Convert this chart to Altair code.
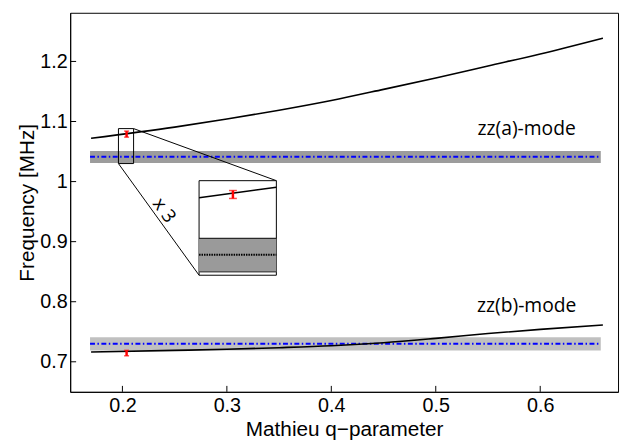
import altair as alt
import pandas as pd

# ---- data ----
q_values = [0.17, 0.25, 0.30, 0.35, 0.40, 0.45, 0.50, 0.55, 0.60, 0.66]
freq_a = [1.072, 1.0907, 1.1041, 1.1188, 1.1350, 1.1535, 1.1725, 1.1925, 1.2125, 1.2388]
freq_b = [0.7164, 0.719, 0.7208, 0.7235, 0.7268, 0.7318, 0.739, 0.747, 0.754, 0.7613]

band_x0 = [0.169, 0.169]
band_x1 = [0.658, 0.658]
band_lo = [1.031, 0.719]
band_hi = [1.051, 0.741]
band_mid = [1.0414, 0.730]
band_colors = ["#9c9c9c", "#c0c0c0"]

meas_q = [0.204, 0.204]
meas_f = [1.079, 0.7145]
meas_err = [0.005, 0.0045]

mode_labels = ["zz(a)-mode", "zz(b)-mode"]
label_q = [0.587, 0.587]
label_f = [1.0783, 0.7822]

# zoom inset
small_box = [0.1962, 0.2107, 1.030, 1.0882]   # x0, x1, y0, y1
big_box = [0.2734, 0.3474, 0.8441, 1.0015]
inset_line_q = [0.2734, 0.3474]
inset_line_f = [0.973, 0.9905]
inset_meas = [0.3058, 0.9785, 0.0066]
inset_band = [0.8497, 0.9056]
inset_mid = 0.8781
zoom_text = "x 3"
zoom_text_pos = [0.2400, 0.952]

x_ticks = [0.2, 0.3, 0.4, 0.5, 0.6]
y_ticks = [0.7, 0.8, 0.9, 1.0, 1.1, 1.2]

X_DOM = [0.15, 0.6745]
Y_DOM = [0.65, 1.281]
W, H = 555, 384

xs = alt.Scale(domain=X_DOM, nice=False, zero=False)
ys = alt.Scale(domain=Y_DOM, nice=False, zero=False)
x_axis = alt.Axis(values=x_ticks, format=".1f", ticks=False, labelPadding=4, titlePadding=3)
y_axis = alt.Axis(values=y_ticks, format="~g", ticks=False, labelPadding=3, titlePadding=2)


def X(f, **kw):
    return alt.X(f, type="quantitative", scale=xs, axis=x_axis, title="Mathieu q−parameter", **kw)


def Y(f, **kw):
    return alt.Y(f, type="quantitative", scale=ys, axis=y_axis, title="Frequency [MHz]", **kw)


curves = pd.DataFrame({
    "q": q_values * 2,
    "f": freq_a + freq_b,
    "s": ["a"] * len(q_values) + ["b"] * len(q_values),
})
bands = pd.DataFrame({"x0": band_x0, "x1": band_x1, "lo": band_lo, "hi": band_hi,
                      "mid": band_mid, "c": band_colors})
meas = pd.DataFrame({"q": meas_q, "f": meas_f,
                     "lo": [f - e for f, e in zip(meas_f, meas_err)],
                     "hi": [f + e for f, e in zip(meas_f, meas_err)]})
labels = pd.DataFrame({"q": label_q, "f": label_f, "t": mode_labels})

curve_layer = alt.Chart(curves).mark_line(strokeWidth=1.6, color="black", interpolate="monotone").encode(
    x=X("q"), y=Y("f"), detail="s:N",
)

band_layer = alt.Chart(bands).mark_rect().encode(
    x=X("x0"), x2="x1", y=Y("lo"), y2="hi",
    color=alt.Color("c:N", scale=None),
)
blue_layer = alt.Chart(bands).mark_rule(color="#0000ff", strokeWidth=2, strokeDash=[5, 2.5, 1.5, 2.5]).encode(
    x=X("x0"), x2="x1", y=Y("mid"),
)

err_layer = alt.Chart(meas).mark_rule(color="#ff0000", strokeWidth=2.5).encode(
    x=X("q"), y=Y("lo"), y2="hi")
cap_lo = alt.Chart(meas).mark_tick(color="#ff0000", orient="horizontal", size=5, thickness=1.5).encode(
    x=X("q"), y=Y("lo"))
cap_hi = alt.Chart(meas).mark_tick(color="#ff0000", orient="horizontal", size=5, thickness=1.5).encode(
    x=X("q"), y=Y("hi"))

# inset
boxes = pd.DataFrame({"x0": [small_box[0], big_box[0]], "x1": [small_box[1], big_box[1]],
                      "y0": [small_box[2], big_box[2]], "y1": [small_box[3], big_box[3]],
                      "fill": ["transparent", "white"]})
box_layer = alt.Chart(boxes).mark_rect(stroke="black", strokeWidth=1).encode(
    x=X("x0"), x2="x1", y=Y("y0"), y2="y1", fill=alt.Fill("fill:N", scale=None))
connect = pd.DataFrame({
    "xa": [small_box[1], small_box[0]], "ya": [small_box[3], small_box[2]],
    "xb": [big_box[1], big_box[0]], "yb": [big_box[3], big_box[2]],
})
connect_layer = alt.Chart(connect).mark_rule(color="black", strokeWidth=1).encode(
    x=X("xa"), y=Y("ya"), x2="xb", y2="yb")

inset_band_df = pd.DataFrame({"x0": [big_box[0]], "x1": [big_box[1]], "lo": [inset_band[0]],
                              "hi": [inset_band[1]], "mid": [inset_mid]})
inset_band_layer = alt.Chart(inset_band_df).mark_rect(color="#9a9a9a").encode(
    x=X("x0"), x2="x1", y=Y("lo"), y2="hi")
inset_band_top = alt.Chart(inset_band_df).mark_rule(color="black", strokeWidth=1).encode(
    x=X("x0"), x2="x1", y=Y("hi"))
inset_band_bot = alt.Chart(inset_band_df).mark_rule(color="#555555", strokeWidth=1.5).encode(
    x=X("x0"), x2="x1", y=Y("lo"))
inset_mid_layer = alt.Chart(inset_band_df).mark_rule(color="black", strokeWidth=2, strokeDash=[1.5, 1]).encode(
    x=X("x0"), x2="x1", y=Y("mid"))
inset_line_df = pd.DataFrame({"q": inset_line_q, "f": inset_line_f})
inset_line_layer = alt.Chart(inset_line_df).mark_line(color="black", strokeWidth=1.5).encode(
    x=X("q"), y=Y("f"))
inset_meas_df = pd.DataFrame({"q": [inset_meas[0]], "lo": [inset_meas[1] - inset_meas[2]],
                              "hi": [inset_meas[1] + inset_meas[2]]})
inset_err = alt.Chart(inset_meas_df).mark_rule(color="#ff0000", strokeWidth=2.5).encode(
    x=X("q"), y=Y("lo"), y2="hi")
inset_cap_lo = alt.Chart(inset_meas_df).mark_tick(color="#ff0000", orient="horizontal", size=8, thickness=1.5).encode(
    x=X("q"), y=Y("lo"))
inset_cap_hi = alt.Chart(inset_meas_df).mark_tick(color="#ff0000", orient="horizontal", size=8, thickness=1.5).encode(
    x=X("q"), y=Y("hi"))

zoom_df = pd.DataFrame({"q": [zoom_text_pos[0]], "f": [zoom_text_pos[1]], "t": [zoom_text]})
zoom_label = alt.Chart(zoom_df).mark_text(font="Open Sans", fontSize=19, angle=54, align="center",
                                          baseline="middle", color="black").encode(
    x=X("q"), y=Y("f"), text="t:N")

label_layer = alt.Chart(labels).mark_text(font="Open Sans", fontSize=19.5, align="center",
                                          baseline="alphabetic", color="black").encode(
    x=X("q"), y=Y("f"), text="t:N")

# inward tick marks
xt = pd.DataFrame({"v": x_ticks})
yt = pd.DataFrame({"v": y_ticks})
xtick_layer = alt.Chart(xt).mark_rule(color="black", strokeWidth=1).encode(
    x=X("v"), y=alt.value(H), y2=alt.value(H - 6))
ytick_layer = alt.Chart(yt).mark_rule(color="black", strokeWidth=1).encode(
    y=Y("v"), x=alt.value(0), x2=alt.value(6))

chart = alt.layer(
    band_layer, blue_layer, curve_layer, err_layer, cap_lo, cap_hi,
    connect_layer, box_layer, inset_band_layer, inset_mid_layer, inset_band_top, inset_band_bot,
    inset_line_layer, inset_err, inset_cap_lo, inset_cap_hi,
    zoom_label, label_layer, xtick_layer, ytick_layer,
).properties(
    width=W, height=H,
    autosize=alt.AutoSizeParams(type="none"),
    padding={"left": 63, "top": 2, "right": 2, "bottom": 49},
).configure_view(
    stroke="black", strokeWidth=1,
).configure_axis(
    grid=False, domainColor="black", domainWidth=1,
    labelFont="Liberation Sans", labelFontSize=20, labelColor="black",
    titleFont="Liberation Sans", titleFontSize=21, titleFontWeight="normal", titleColor="black",
)

chart.save("out.html", embed_options={"renderer": "svg", "actions": False})
